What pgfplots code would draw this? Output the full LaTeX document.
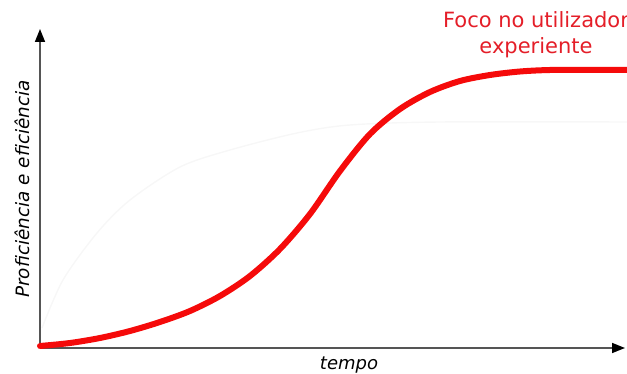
\documentclass[border=0pt]{standalone}
\usepackage{pgfplots}
\pgfplotsset{compat=1.18}
\usepackage{fontspec}
\setmainfont{DejaVu Sans}
\usetikzlibrary{arrows.meta}
\definecolor{curvered}{RGB}{245,10,10}
\definecolor{textred}{RGB}{228,30,40}
\definecolor{axisgray}{RGB}{85,85,85}
\begin{document}
\begin{tikzpicture}
\begin{axis}[
  x=0.5pt, y=0.5pt,
  xmin=40, xmax=625, ymin=26, ymax=345,
  axis lines=left,
  axis line style={axisgray, line width=0.8pt},
  x axis line style={-{Triangle[width=5pt,length=6.5pt,black]}},
  y axis line style={-{Triangle[width=5pt,length=6.5pt,black]}},
  xtick=\empty, ytick=\empty,
  clip=false,
]
\addplot[black!3, line width=0.7pt, smooth] coordinates {
(42,46) (63,94) (97,141) (130,174) (180,207) (230,224) (297,241) (350,249) (440,252) (627,252)
};
\addplot[curvered, line width=3pt, smooth, line cap=round] coordinates {
(40,28) (70,31) (100,36) (130,43) (160,52) (190,63) (220,78) (250,98) (280,125)
(310,160) (340,203) (370,240) (400,265) (430,282) (460,293) (490,299) (520,302.5)
(550,304) (590,304) (627,304)
};
\node[font=\itshape\fontsize{9.2}{11}\selectfont, rotate=90, anchor=center] at (axis cs:22,185) {Proficiência e eficiência};
\node[font=\itshape\fontsize{9}{11}\selectfont, anchor=center] at (axis cs:349,9) {tempo};
\node[text=textred, font=\fontsize{10.5}{13}\selectfont, align=center, anchor=center] at (axis cs:536,339) {Foco no utilizador\\experiente};
\coordinate (bl) at (axis cs:0,0);
\coordinate (tr) at (axis cs:627,374);
\end{axis}
\pgfresetboundingbox
\path (bl) rectangle (tr);
\end{tikzpicture}
\end{document}
